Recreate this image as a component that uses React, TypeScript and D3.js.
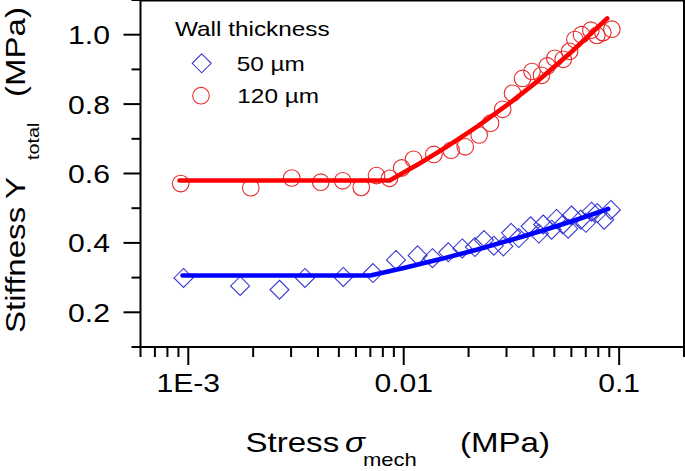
import React from 'react';
import * as d3 from 'd3';

// ---- Data ----
const wall50Stress = [9.5e-4, 1.74e-3, 2.65e-3, 3.48e-3, 5.24e-3, 7.2e-3, 9.2e-3, 1.16e-2, 1.36e-2, 1.61e-2, 1.87e-2, 2.14e-2, 2.36e-2, 2.62e-2, 2.9e-2, 3.15e-2, 3.42e-2, 3.88e-2, 4.24e-2, 4.44e-2, 4.86e-2, 5.12e-2, 5.48e-2, 5.8e-2, 6.01e-2, 6.64e-2, 7.01e-2, 7.44e-2, 7.92e-2, 8.53e-2, 9.15e-2];
const wall50Stiffness = [0.299, 0.276, 0.265, 0.299, 0.302, 0.313, 0.351, 0.364, 0.356, 0.373, 0.384, 0.388, 0.408, 0.392, 0.39, 0.429, 0.414, 0.448, 0.427, 0.453, 0.438, 0.469, 0.453, 0.441, 0.479, 0.467, 0.458, 0.49, 0.486, 0.467, 0.495];

const wall120Stress = [9.22e-4, 1.95e-3, 3.02e-3, 4.12e-3, 5.21e-3, 6.35e-3, 7.48e-3, 8.59e-3, 9.78e-3, 1.11e-2, 1.38e-2, 1.66e-2, 1.93e-2, 2.24e-2, 2.53e-2, 2.88e-2, 3.2e-2, 3.56e-2, 3.94e-2, 4.36e-2, 4.64e-2, 5.03e-2, 5.5e-2, 5.89e-2, 6.23e-2, 6.69e-2, 7.39e-2, 7.88e-2, 8.4e-2, 9.25e-2];
const wall120Stiffness = [0.571, 0.559, 0.587, 0.575, 0.579, 0.56, 0.594, 0.586, 0.616, 0.641, 0.655, 0.667, 0.677, 0.711, 0.745, 0.785, 0.831, 0.874, 0.894, 0.883, 0.91, 0.932, 0.929, 0.952, 0.986, 1.0, 1.013, 0.998, 1.006, 1.016];

// fitted lines (vertices)
const fit50Stress = [9.4e-4, 7.0e-3, 0.01, 0.015, 0.022, 0.032, 0.045, 0.065, 0.089];
const fit50Stiffness = [0.306, 0.306, 0.328, 0.354, 0.381, 0.41, 0.437, 0.469, 0.498];
const fit120Stress = [9.1e-4, 8.6e-3, 0.012, 0.016, 0.022, 0.03, 0.042, 0.06, 0.088];
const fit120Stiffness = [0.58, 0.58, 0.631, 0.679, 0.736, 0.796, 0.867, 0.95, 1.047];

const xMajorTicks = [0.001, 0.01, 0.1];
const xTickLabels = ['1E-3', '0.01', '0.1'];
const yMajorTicks = [0.2, 0.4, 0.6, 0.8, 1.0];
const yTickLabels = ['0.2', '0.4', '0.6', '0.8', '1.0'];
const yMinorTicks = [0.1, 0.3, 0.5, 0.7, 0.9, 1.1];

const legendTitle = 'Wall thickness';
const legendLabels = ['50 \u00b5m', '120 \u00b5m'];

// ---- Layout ----
const W = 685;
const H = 471;
const left = 140.5;
const right = 684;
const top = 0;
const bottom = 347;
const SX = 1.16; // horizontal glyph stretch of the reference font
const FONT = '"Liberation Sans", Arial, Helvetica, sans-serif';

const RED_MARK = '#e52b2b';
const BLUE_MARK = '#3a3ad4';
const RED_LINE = '#ff0000';
const BLUE_LINE = '#0000ff';

function SText(props: { x: number; y: number; size: number; anchor?: string; rotate?: boolean; italic?: boolean; children: React.ReactNode }) {
  const { x, y, size, anchor = 'start', rotate = false, italic = false, children } = props;
  return (
    <g transform={`translate(${x},${y}) ${rotate ? 'rotate(-90)' : ''} scale(${SX},1)`}>
      <text x={0} y={0} fontSize={size} textAnchor={anchor} fontFamily={FONT} fontStyle={italic ? 'italic' : 'normal'} fill="#000">
        {children}
      </text>
    </g>
  );
}

function diamondPath(cx: number, cy: number, r: number) {
  return `M${cx},${cy - r}L${cx + r},${cy}L${cx},${cy + r}L${cx - r},${cy}Z`;
}

export default function App() {
  const x = d3.scaleLog().domain([6e-4, 0.2]).range([left, right]);
  const y = d3.scaleLinear().domain([0.1, 1.1]).range([bottom, top]);

  const allXTicks = x.ticks();
  const xMinor = allXTicks.filter((t) => !xMajorTicks.some((m) => Math.abs(m - t) / m < 1e-6));

  const line = d3
    .line<[number, number]>()
    .x((d) => x(d[0]))
    .y((d) => y(d[1]));

  const fit50 = fit50Stress.map((s, i) => [s, fit50Stiffness[i]] as [number, number]);
  const fit120 = fit120Stress.map((s, i) => [s, fit120Stiffness[i]] as [number, number]);

  const R = 8.3;
  const D = 9.5;

  return (
    <svg width={W} height={H} style={{ position: 'absolute', left: 0, top: 0, background: '#fff' }}>
      <rect x={0} y={0} width={W} height={H} fill="#fff" />
      {/* markers */}
      {wall120Stress.map((s, i) => (
        <circle key={'c' + i} cx={x(s)} cy={y(wall120Stiffness[i])} r={R} fill="none" stroke={RED_MARK} strokeWidth={1.1} />
      ))}
      {wall50Stress.map((s, i) => (
        <path key={'d' + i} d={diamondPath(x(s), y(wall50Stiffness[i]), D)} fill="none" stroke={BLUE_MARK} strokeWidth={1.1} />
      ))}
      {/* fit lines */}
      <path d={line(fit120) || ''} fill="none" stroke={RED_LINE} strokeWidth={4.6} strokeLinecap="round" strokeLinejoin="round" />
      <path d={line(fit50) || ''} fill="none" stroke={BLUE_LINE} strokeWidth={4.6} strokeLinecap="round" strokeLinejoin="round" />

      {/* frame */}
      <rect x={left} y={top + 0.5} width={right - left} height={bottom - top - 0.5} fill="none" stroke="#000" strokeWidth={2} />

      {/* x ticks */}
      {xMajorTicks.map((t) => (
        <line key={'xM' + t} x1={x(t)} x2={x(t)} y1={bottom} y2={bottom + 18} stroke="#000" strokeWidth={2} />
      ))}
      {xMinor.map((t) => (
        <line key={'xm' + t} x1={x(t)} x2={x(t)} y1={bottom} y2={bottom + 10} stroke="#000" strokeWidth={2} />
      ))}
      {xMajorTicks.map((t, i) => (
        <SText key={'xl' + t} x={x(t)} y={392} size={26} anchor="middle">
          {xTickLabels[i]}
        </SText>
      ))}

      {/* y ticks */}
      {yMajorTicks.map((t) => (
        <line key={'yM' + t} x1={left - 17} x2={left} y1={y(t)} y2={y(t)} stroke="#000" strokeWidth={2} />
      ))}
      {yMinorTicks.map((t) => (
        <line key={'ym' + t} x1={left - 9} x2={left} y1={y(t)} y2={y(t)} stroke="#000" strokeWidth={2} />
      ))}
      {yMajorTicks.map((t, i) => (
        <SText key={'yl' + t} x={110} y={y(t) + 9.5} size={26} anchor="end">
          {yTickLabels[i]}
        </SText>
      ))}

      {/* axis titles */}
      <SText x={245.5} y={452} size={28.5}>Stress</SText>
      <SText x={345} y={452} size={28.5} italic>{'\u03c3'}</SText>
      <SText x={363} y={466} size={19}>mech</SText>
      <SText x={460} y={452} size={28.5}>(MPa)</SText>

      <SText x={25} y={333} size={28.5} rotate>Stiffness</SText>
      <SText x={25} y={199} size={28.5} rotate>Y</SText>
      <SText x={39} y={160} size={17} rotate>total</SText>
      <SText x={25} y={97} size={28.5} rotate>(MPa)</SText>

      {/* legend */}
      <SText x={175} y={36} size={21}>{legendTitle}</SText>
      <path d={diamondPath(201.7, 63.3, D)} fill="none" stroke={BLUE_MARK} strokeWidth={1.1} />
      <SText x={236.7} y={71} size={21}>{legendLabels[0]}</SText>
      <circle cx={201} cy={95.7} r={R} fill="none" stroke={RED_MARK} strokeWidth={1.1} />
      <SText x={237.3} y={103} size={21}>{legendLabels[1]}</SText>
    </svg>
  );
}
